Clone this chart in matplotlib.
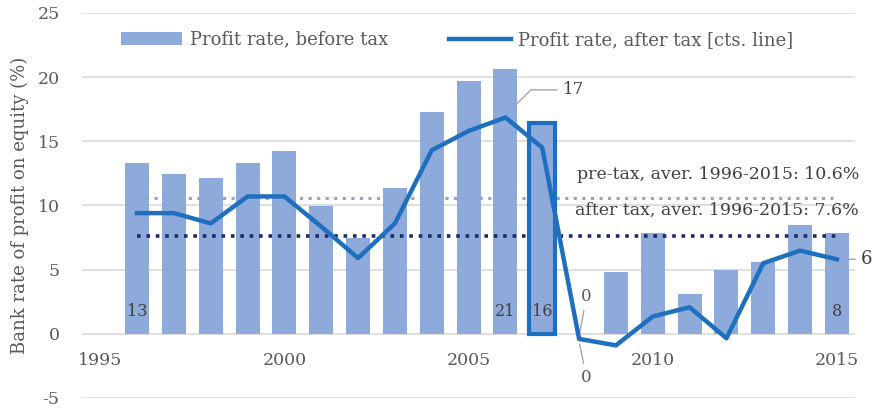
import matplotlib
matplotlib.use('Agg')
from matplotlib import pyplot as plt
import numpy as np

# data
years = list(range(1996, 2016))
pre_tax = [13.27, 12.42, 12.1, 13.3, 14.25, 9.95, 7.5, 11.33, 17.3, 19.7,
           20.6, 16.4, 0.0, 4.85, 7.88, 3.08, 4.98, 5.58, 8.48, 7.83]
after_tax = [9.4, 9.4, 8.6, 10.7, 10.7, 8.35, 5.9, 8.6, 14.3, 15.8,
             16.85, 14.5, -0.4, -0.9, 1.35, 2.07, -0.35, 5.5, 6.48, 5.8]
avg_pre = 10.6
avg_after = 7.6
highlight_year = 2007
bar_labels = {1996: '13', 2006: '21', 2007: '16', 2015: '8'}
x_ticks = [1995, 2000, 2005, 2010, 2015]
y_ticks = [-5, 0, 5, 10, 15, 20, 25]

bar_col = '#8eaadb'
line_col = '#1f6fbf'
txt_col = '#595959'

plt.rcParams['font.family'] = ['DejaVu Serif']
plt.rcParams['axes.unicode_minus'] = False

fig = plt.figure(figsize=(8.8, 4.15), dpi=100)
ax = fig.add_axes([0.093, 0.041, 0.879, 0.928])

bars = ax.bar(years, pre_tax, width=0.65, color=bar_col, zorder=2,
              label='Profit rate, before tax')
hi = years.index(highlight_year)
ax.bar([highlight_year], [pre_tax[hi]], width=0.7, color=bar_col,
       edgecolor=line_col, linewidth=3, zorder=3)

ax.plot([years[0], years[-1]], [avg_pre, avg_pre], ls=(0, (1, 1.8)),
        color='#8ea4cc', lw=2.2, zorder=2.5)
ax.plot([years[0], years[-1]], [avg_after, avg_after], ls=(0, (1, 1.6)),
        color='#1c2a66', lw=2.6, zorder=2.5)

line, = ax.plot(years, after_tax, color=line_col, lw=3.2, zorder=4,
                label='Profit rate, after tax [cts. line]')

# axes styling
ax.set_xlim(1994.5, 2015.5)
ax.set_ylim(-5, 25)
ax.set_yticks(y_ticks)
ax.set_xticks(x_ticks)
ax.grid(axis='y', color='#d9d9d9', lw=1.2, zorder=0)
for s in ax.spines.values():
    s.set_visible(False)
ax.spines['bottom'].set_position(('data', 0))
ax.tick_params(axis='both', length=0, labelsize=12.5, colors=txt_col)
ax.tick_params(axis='y', pad=16)
ax.tick_params(axis='x', pad=13)
ax.set_ylabel('Bank rate of profit on equity (%)', fontsize=13,
              color=txt_col, labelpad=6)

leg = ax.legend([bars, line], [bars.get_label(), line.get_label()],
                loc='center', bbox_to_anchor=(0.485, 0.93), ncol=2,
                frameon=False, fontsize=13, handlelength=3.4,
                columnspacing=3.4, handletextpad=0.4)
for t in leg.get_texts():
    t.set_color(txt_col)

# value labels inside bars
for yr, lab in bar_labels.items():
    ax.text(yr, 1.7, lab, ha='center', va='center', fontsize=11.5,
            color='#404040')

# leader annotations
lead = dict(arrowstyle='-', color='#a6a6a6', lw=1)
ax.annotate('17', xy=(2006.2, 17.6), xytext=(2007.55, 19.0),
            fontsize=12, color='#404040', va='center', ha='left',
            arrowprops=dict(lead, connectionstyle='angle,angleA=0,angleB=45,rad=0'))
ax.annotate('0', xy=(2008, -0.2), xytext=(2008.2, 2.9), fontsize=12,
            color=txt_col, ha='center', va='center', arrowprops=lead)
ax.annotate('0', xy=(2008, -0.6), xytext=(2008.2, -3.4), fontsize=12,
            color=txt_col, ha='center', va='center', arrowprops=lead)
ax.annotate('6', xy=(2015.25, after_tax[-1]), xytext=(2015.65, after_tax[-1]),
            fontsize=13, color='#404040', ha='left', va='center',
            annotation_clip=False, arrowprops=lead)

ax.text(2015.6, 12.4, 'pre-tax, aver. 1996-2015: %.1f%%' % avg_pre,
        ha='right', va='center', fontsize=12.5, color='#404040', zorder=5)
ax.text(2015.6, 9.65, 'after tax, aver. 1996-2015: %.1f%%' % avg_after,
        ha='right', va='center', fontsize=12.5, color='#404040', zorder=5)

fig.savefig('out.png', dpi=100)
